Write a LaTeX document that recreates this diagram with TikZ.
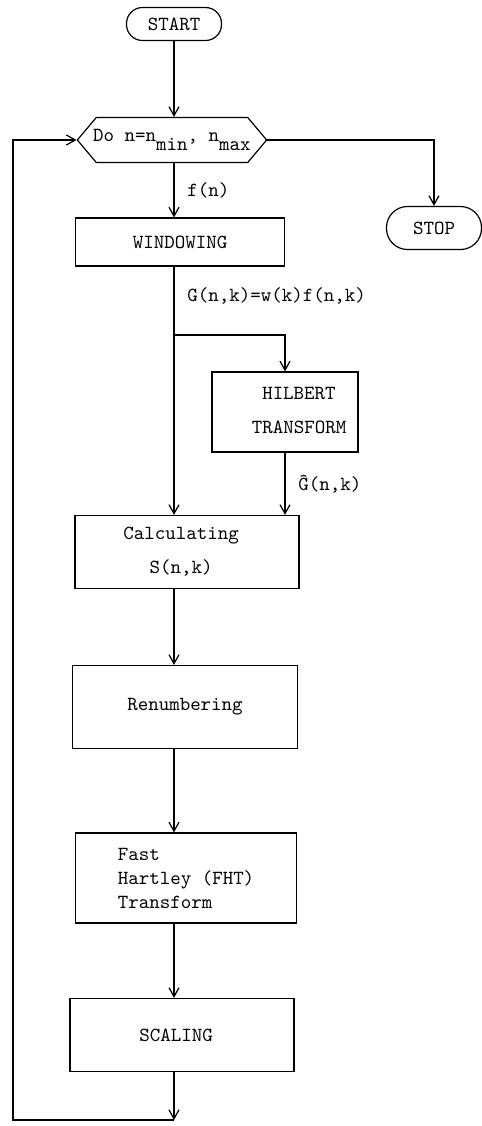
\documentclass[tikz,border=0pt]{standalone}
\usepackage{tikz}
\usetikzlibrary{shapes, arrows.meta, positioning}
\tikzstyle{block}=[draw,fill=white,rectangle,minimum width=112pt,minimum height=36.5pt]
\tikzstyle{term}=[draw,fill=white,rectangle,rounded corners=8pt,minimum width=47.5pt,minimum height=16.5pt]
\tikzstyle{every node}=[font=\ttfamily]
\tikzstyle{lbl}=[right,xshift=3pt]

\begin{document}
\begin{tikzpicture}[x=0.5pt,y=-0.5pt,line width=0.6pt,>={Straight Barb[length=4.5pt,width=5pt]}]
    \useasboundingbox (0,0) rectangle (482,1126);
    \node[term] (start) at (174,24) {START};
    \node[draw,signal,signal to=west and east,signal pointer angle=100,
          minimum width=94pt,minimum height=22.5pt,inner xsep=-1.5pt] (loop) at (172,140)
          {Do n=n\raisebox{-1ex}{min}, n\raisebox{-1ex}{max}};
    \node[term,rounded corners=10.5pt,minimum height=21.5pt] (stop) at (434,228) {STOP};
    \draw[->] (start) -- (start |- loop.north);
    \draw[->] (loop.east) -| (stop.north);

    \node[block,minimum width=104.5pt,minimum height=24pt] (win) at (180,242) {WINDOWING};
    \draw[->] (start |- loop.south) -- node[lbl] {f(n)} (start |- win.north);

    \node[block,minimum width=73pt,minimum height=40pt] (hilb) at (285,412)
          {\begin{tabular}{@{\hspace{14pt}}c@{}}HILBERT\\[5pt]TRANSFORM\end{tabular}};
    \node[block] (calc) at (187,552)
          {\begin{tabular}{@{}c@{\hspace{6pt}}}Calculating\\[5pt]S(n,k)\end{tabular}};
    \coordinate (split) at (174,335);
    \draw[->] (start |- win.south) -- node[lbl,pos=0.12] {G(n,k)=w(k)f(n,k)} (start |- calc.north);
    \draw[->] (split) -| (hilb.north);
    \draw[->] (hilb.south) -- node[lbl] {\^{G}(n,k)} (hilb.south |- calc.north);

    \node[block,minimum width=112.5pt,minimum height=41.5pt] (renum) at (185,707) {Renumbering};
    \node[block,minimum width=110.5pt,minimum height=45pt,align=left] (fht) at (186,878)
          {Fast\\Hartley (FHT)\\Transform};
    \node[block] (scal) at (182,1035) {SCALING\hspace*{6pt}};
    \draw[->] (start |- calc.south) -- (start |- renum.north);
    \draw[->] (start |- renum.south) -- (start |- fht.north);
    \draw[->] (start |- fht.south) -- (start |- scal.north);

    % back to the loop head
    \coordinate (bot) at (174,1120);
    \coordinate (lft) at (13,1120);
    \draw[->] (start |- scal.south) -- (bot);
    \draw[->] (bot) -- (lft) |- (loop.west);
\end{tikzpicture}
\end{document}
